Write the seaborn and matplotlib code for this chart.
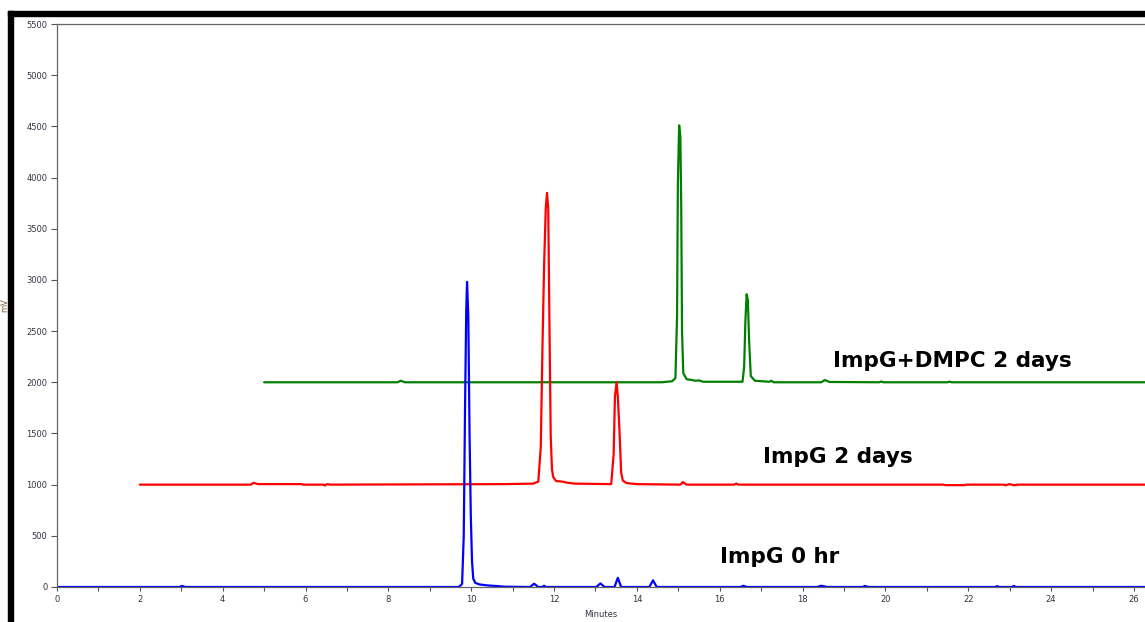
import numpy as np
import pandas as pd
import matplotlib
matplotlib.use("Agg")
import matplotlib.pyplot as plt
from matplotlib.patches import Rectangle
from matplotlib.ticker import MultipleLocator, FuncFormatter
import seaborn as sns

# ---------------- data ----------------
series_names = ["ImpG 0 hr", "ImpG 2 days", "ImpG+DMPC 2 days"]
series_offsets = [0, 1000, 2000]

# ImpG 0 hr (blue)
t_0hr = [0.0, 2.95, 3.02, 3.1, 9.70, 9.78, 9.82, 9.85, 9.88, 9.90, 9.93, 9.96, 9.99,
         10.02, 10.05, 10.1, 10.2, 10.4, 10.6, 10.8, 11.42, 11.52, 11.62, 11.72, 11.76,
         11.8, 13.02, 13.12, 13.22, 13.46, 13.54, 13.62, 14.30, 14.39, 14.48, 16.5,
         16.57, 16.65, 18.35, 18.45, 18.6, 19.45, 19.5, 19.6, 22.65, 22.7, 22.75, 23.05,
         23.1, 23.15, 26.3]
v_0hr = [0, 0, 10, 0, 0, 30, 500, 1700, 2700, 2980, 2650, 1500, 700,
         250, 80, 40, 25, 15, 10, 3, 0, 32, 0, 0, 12,
         0, 0, 35, 0, 0, 90, 0, 0, 65, 0, 0,
         12, 0, 0, 12, 0, 0, 10, 0, 0, 8, 0, 0,
         10, 0, 0]

# ImpG 2 days (red), relative to its baseline
t_2d = [2.0, 4.68, 4.75, 4.85, 5.9, 5.95, 6.42, 6.47, 6.52, 6.6, 10.8, 11.5, 11.62,
        11.68, 11.72, 11.76, 11.80, 11.83, 11.86, 11.89, 11.92, 11.95, 11.98, 12.05,
        12.2, 12.3, 12.5, 13.38, 13.44, 13.47, 13.51, 13.54, 13.58, 13.62, 13.66, 13.75,
        14.0, 15.05, 15.11, 15.2, 16.35, 16.4, 16.45, 21.4, 21.45, 21.9, 21.95, 22.85,
        22.9, 23.0, 23.1, 23.2, 26.3]
v_2d = [0, 0, 18, 5, 5, 0, 0, -8, 5, 0, 5, 10, 30,
        370, 1330, 2140, 2700, 2850, 2700, 1540, 470, 150, 74, 35,
        30, 20, 10, 5, 300, 860, 1000, 860, 530, 120, 40, 15,
        5, 0, 25, 0, 0, 10, 0, 0, -5, -5, 0, 0,
        -6, 5, -6, 0, 0]

# ImpG+DMPC 2 days (green), relative to its baseline
t_dmpc = [5.0, 8.22, 8.3, 8.4, 14.6, 14.85, 14.93, 14.97, 14.99, 15.02, 15.05, 15.07,
          15.09, 15.12, 15.2, 15.36, 15.4, 15.5, 15.6, 16.55, 16.59, 16.62, 16.65, 16.68,
          16.71, 16.75, 16.85, 17.2, 17.25, 17.3, 18.45, 18.54, 18.65, 19.85, 19.9,
          19.95, 21.5, 21.55, 21.6, 26.3]
v_dmpc = [0, 0, 15, 0, 0, 10, 40, 640, 1950, 2510, 2400, 1750,
          500, 90, 30, 20, 15, 18, 5, 5, 150, 600, 860, 800,
          400, 60, 15, 5, 15, 0, 0, 22, 3, 0, 8,
          0, 0, 6, 0, 0]

series_times = [t_0hr, t_2d, t_dmpc]
series_values = [v_0hr, v_2d, v_dmpc]
series_colors = ["#0000ff", "#ff0000", "#008000"]

x_ticks = list(range(0, 27, 2))
y_ticks = list(range(0, 5501, 500))

# ---------------- build table ----------------
frames = []
for name, ts, vs, off in zip(series_names, series_times, series_values, series_offsets):
    frames.append(pd.DataFrame({"Minutes": ts,
                                "signal": np.array(vs, float) + off,
                                "sample": name}))
df = pd.concat(frames, ignore_index=True)

# ---------------- figure ----------------
sns.set_theme(style="white")
plt.rcParams["font.family"] = ["DejaVu Sans"]

W, H = 1145, 622
fig = plt.figure(figsize=(W / 100, H / 100), dpi=100)
ax = fig.add_axes([57 / W, 1 - 587 / H, 1 - 57 / W, (587 - 24) / H])

sns.lineplot(data=df, x="Minutes", y="signal", hue="sample",
             hue_order=series_names[::-1],
             palette=dict(zip(series_names, series_colors)),
             estimator=None, sort=False, linewidth=1.6, legend=False, ax=ax)

ax.set_xlim(0, (W - 57) / 41.42)
ax.set_ylim(0, 5500)

ax.xaxis.set_major_locator(MultipleLocator(1))
ax.xaxis.set_minor_locator(MultipleLocator(0.2))
ax.xaxis.set_major_formatter(FuncFormatter(
    lambda v, p: f"{int(round(v))}" if int(round(v)) in x_ticks else ""))
ax.set_yticks(y_ticks)
ax.yaxis.set_minor_locator(MultipleLocator(100))

ax.tick_params(axis="both", which="major", direction="out", length=4, width=0.8,
               color="#555555", labelsize=6, labelcolor="#333344", pad=3)
ax.tick_params(axis="both", which="minor", direction="out", length=2.5, width=0.6,
               color="#777777")
ax.tick_params(axis="x", which="major", length=3)
ax.tick_params(axis="x", which="minor", length=1.5)
ax.tick_params(left=True, bottom=True)

for side in ["left", "bottom", "top"]:
    ax.spines[side].set_visible(True)
    ax.spines[side].set_color("#666666")
    ax.spines[side].set_linewidth(0.9)
ax.spines["right"].set_visible(False)

ax.set_xlabel("Minutes", fontsize=6, color="#333344", labelpad=4)
ax.set_ylabel("mV", fontsize=6, color="#806030")
ax.yaxis.set_label_coords((9 - 57) / (W - 57), (587 - 305) / (587 - 24))

# labels for traces
label_pos = [(16.0, 234), (17.05, 1211), (18.73, 2149)]
for name, (lx, ly) in zip(series_names, label_pos):
    ax.text(lx, ly, name, fontsize=15.5, fontweight="bold", family=["DejaVu Sans"],
            color="black", ha="left", va="baseline")

# black frame (top and left) of the original screenshot
fig.add_artist(Rectangle((8 / W, 1 - 16 / H), 1 - 8 / W, 5 / H,
                         transform=fig.transFigure, color="black", zorder=10))
fig.add_artist(Rectangle((8 / W, 0), 5 / W, 1 - 11 / H,
                         transform=fig.transFigure, color="black", zorder=10))

fig.savefig("out.png", dpi=100, facecolor="white")
